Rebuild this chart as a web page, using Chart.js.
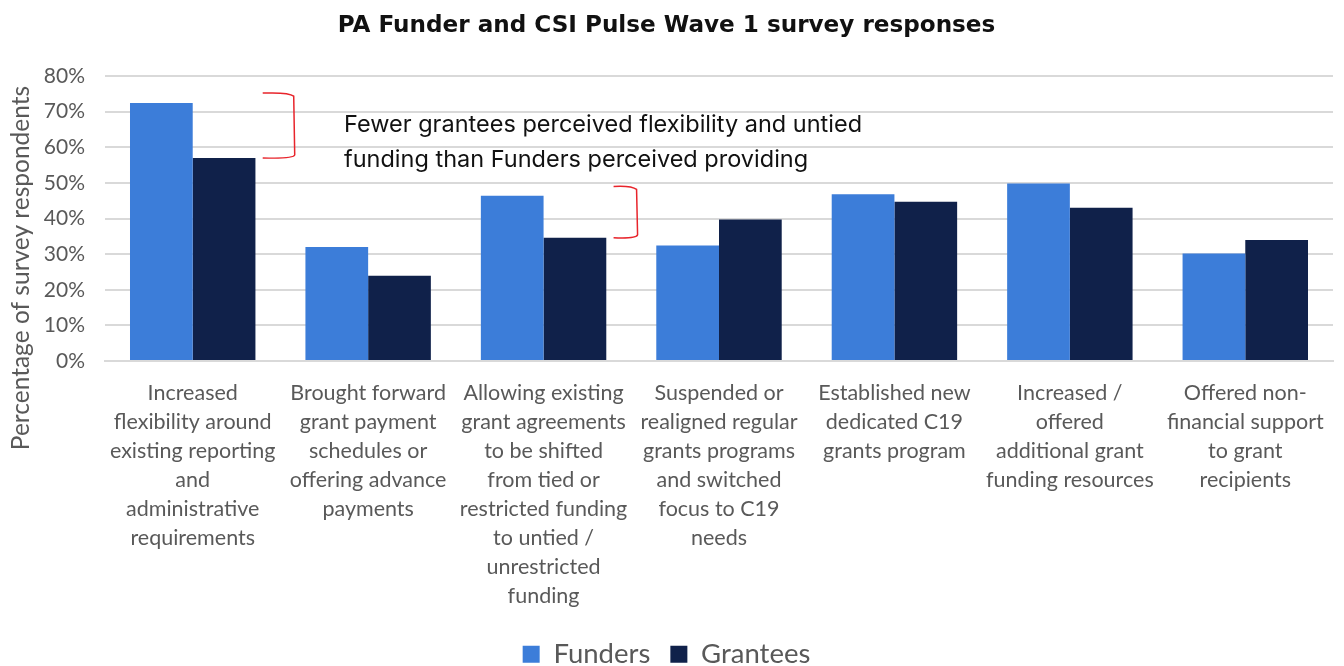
<!DOCTYPE html>
<html lang="en">
<head>
    <meta charset="UTF-8">
    <title>PA Funder and CSI Pulse Wave 1 survey responses</title>
    <script src="https://cdn.jsdelivr.net/npm/chart.js"></script>
    <style>
        html, body { margin: 0; padding: 0; background: #fff; }
        #wrap { width: 1344px; height: 666px; position: relative; }
    </style>
</head>
<body>
    <div id="wrap">
        <canvas id="chart"></canvas>
    </div>

    <script>
        // categories (already wrapped the way the original shows them)
        var categories = [
            ['Increased', 'flexibility around', 'existing reporting', 'and', 'administrative', 'requirements'],
            ['Brought forward', 'grant payment', 'schedules or', 'offering advance', 'payments'],
            ['Allowing existing', 'grant agreements', 'to be shifted', 'from tied or', 'restricted funding', 'to untied /', 'unrestricted', 'funding'],
            ['Suspended or', 'realigned regular', 'grants programs', 'and switched', 'focus to C19', 'needs'],
            ['Established new', 'dedicated C19', 'grants program'],
            ['Increased /', 'offered', 'additional grant', 'funding resources'],
            ['Offered non-', 'financial support', 'to grant', 'recipients']
        ];
        var funders = [72.4, 32.0, 46.4, 32.4, 46.8, 49.8, 30.2];
        var grantees = [57.0, 23.9, 34.6, 39.7, 44.7, 43.0, 34.0];
        var yTicks = [0, 10, 20, 30, 40, 50, 60, 70, 80];

        // red brackets: category index, top value, bottom value
        var bracketCats = [0, 2];
        var bracketTop = [75.2, 49.0];
        var bracketBottom = [57.0, 34.6];

        var titleText = 'PA Funder and CSI Pulse Wave 1 survey responses';
        var noteLines = ['Fewer grantees perceived flexibility and untied', 'funding than Funders perceived providing'];

        var grey = '#595959';

        // font size that makes text take the given width
        function fitSize(ctx, text, font, width) {
            ctx.font = font.replace('SIZE', '20px');
            return 20 * width / ctx.measureText(text).width;
        }

        var ctx = document.getElementById('chart').getContext('2d');
        var titleSize = Math.min(24, fitSize(ctx, titleText, 'bold SIZE "DejaVu Sans"', 658));

        var annotations = {
            id: 'annotations',
            afterDatasetsDraw: function (chart) {
                var c = chart.ctx;
                var x = chart.scales.x, y = chart.scales.y;
                var armStart = [70, 70], armEnd = [102, 94];
                c.save();
                c.strokeStyle = '#e8242b';
                c.lineWidth = 1.5;
                bracketCats.forEach(function (cat, i) {
                    var cx = x.getPixelForValue(cat);
                    var x0 = cx + armStart[i], x1 = cx + armEnd[i];
                    var t = y.getPixelForValue(bracketTop[i]);
                    var b = y.getPixelForValue(bracketBottom[i]);
                    c.beginPath();
                    c.moveTo(x0, t);
                    c.quadraticCurveTo(x1 - 6, t - 1, x1 - 1, t + 3);
                    c.lineTo(x1, b - 3);
                    c.quadraticCurveTo(x1 - 1, b + 1, x0, b);
                    c.stroke();
                });

                // note text
                c.fillStyle = '#111';
                c.textBaseline = 'middle';
                c.textAlign = 'left';
                var s = fitSize(c, noteLines[0], 'SIZE Inter, sans-serif', 518);
                c.font = s.toFixed(1) + 'px Inter, sans-serif';
                c.fillText(noteLines[0], 344, 125);
                c.fillText(noteLines[1], 344, 160);

                // y axis title
                c.fillStyle = grey;
                c.textAlign = 'center';
                s = fitSize(c, 'Percentage of survey respondents', 'SIZE Lato, sans-serif', 364);
                c.font = s.toFixed(1) + 'px Lato, sans-serif';
                c.translate(21, 268);
                c.rotate(-Math.PI / 2);
                c.fillText('Percentage of survey respondents', 0, 0);
                c.restore();
            }
        };

        var chart = new Chart(ctx, {
            type: 'bar',
            data: {
                labels: categories,
                datasets: [{
                    label: 'Funders',
                    data: funders,
                    backgroundColor: '#3c7dd9',
                    borderWidth: 0
                }, {
                    label: 'Grantees',
                    data: grantees,
                    backgroundColor: '#10214a',
                    borderWidth: 0
                }]
            },
            options: {
                responsive: true,
                maintainAspectRatio: false,
                animation: false,
                layout: { padding: { left: 0, right: 11, top: 0, bottom: -12 } },
                datasets: {
                    bar: { barPercentage: 1.0, categoryPercentage: 0.715 }
                },
                plugins: {
                    title: {
                        display: true,
                        text: titleText,
                        color: '#111',
                        font: { family: 'DejaVu Sans', size: titleSize, weight: 'bold' },
                        padding: { top: 26 - titleSize * 0.6, bottom: 50 - titleSize * 0.6 }
                    },
                    legend: {
                        position: 'bottom',
                        labels: {
                            color: grey,
                            font: { family: 'Lato', size: 27.5 },
                            boxWidth: 17,
                            boxHeight: 17,
                            padding: 20
                        }
                    },
                    tooltip: { enabled: false }
                },
                scales: {
                    x: {
                        grid: { display: false },
                        border: { display: true, color: '#d9d9d9', width: 2 },
                        ticks: {
                            color: grey,
                            font: { family: 'Lato', size: 21.5, lineHeight: '29px' },
                            maxRotation: 0,
                            autoSkip: false,
                            padding: 10
                        },
                        afterFit: function (s) { s.height = 259.5; }
                    },
                    y: {
                        min: 0,
                        max: 80,
                        afterBuildTicks: function (s) {
                            s.ticks = yTicks.map(function (v) { return { value: v }; });
                        },
                        grid: { color: '#d9d9d9', lineWidth: 2, drawTicks: false },
                        border: { display: false },
                        ticks: {
                            color: grey,
                            font: { family: 'Lato', size: 21 },
                            padding: 20,
                            callback: function (v) { return v + '%'; }
                        },
                        afterFit: function (s) { s.width = 105; }
                    }
                }
            },
            plugins: [annotations]
        });
    </script>
</body>
</html>
